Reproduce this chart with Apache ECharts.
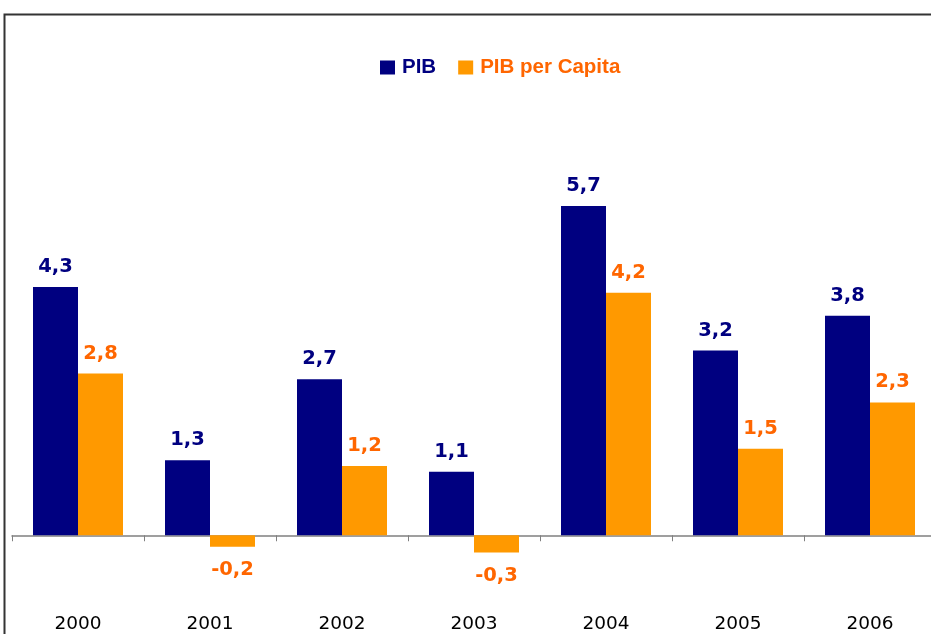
<!DOCTYPE html>
<html>
<head>
<meta charset="utf-8">
<script src="https://cdn.jsdelivr.net/npm/echarts@6/dist/echarts.min.js"></script>
<style>
  html, body { margin: 0; padding: 0; background: #fff; }
  #main { width: 931px; height: 634px; }
</style>
</head>
<body>
<div id="main"></div>
<script>
// valores (%)
var anos = ["2000", "2001", "2002", "2003", "2004", "2005", "2006"];
var pib = [4.3, 1.3, 2.7, 1.1, 5.7, 3.2, 3.8];
var pibPerCapita = [2.8, -0.2, 1.2, -0.3, 4.2, 1.5, 2.3];

var fmt = function (p) {
  return String(p.value).replace(".", ",");
};

// negative values get their label below the bar
function toData(arr) {
  return arr.map(function (v) {
    return v < 0 ? { value: v, label: { position: "bottom", distance: 13 } } : v;
  });
}

var myChart = echarts.init(document.getElementById("main"));
var option = {
  animation: false,
  backgroundColor: "#fff",
  graphic: [
    {
      type: "rect",
      shape: { x: 4.5, y: 14.5, width: 1000, height: 1000 },
      style: { fill: "none", stroke: "#333", lineWidth: 2 },
      silent: true
    }
  ],
  legend: {
    top: 52,
    left: 375,
    itemWidth: 15,
    itemHeight: 14,
    itemGap: 22,
    icon: "rect",
    textStyle: {
      fontFamily: "Liberation Sans",
      fontWeight: "bold",
      fontSize: 20.5,
      padding: [0, 0, 0, 2]
    },
    data: [
      { name: "PIB", textStyle: { color: "#000080" } },
      { name: "PIB per Capita", textStyle: { color: "#ff6600" } }
    ]
  },
  grid: {
    left: 12,
    top: 131,
    width: 924,
    height: 462,
    outerBoundsMode: "none",
    containLabel: false
  },
  xAxis: {
    type: "category",
    data: anos,
    axisLine: { onZero: true, lineStyle: { color: "#808080", width: 1.5 } },
    axisTick: { show: true, length: 6, lineStyle: { color: "#808080" } },
    axisLabel: {
      margin: 22,
      fontFamily: "DejaVu Sans",
      fontSize: 18.5,
      color: "#000"
    }
  },
  yAxis: {
    type: "value",
    min: -1,
    max: 7,
    show: false,
    splitLine: { show: false }
  },
  series: [
    {
      name: "PIB",
      type: "bar",
      data: toData(pib),
      barWidth: 45,
      barGap: "0%",
      itemStyle: { color: "#000080" },
      label: {
        show: true,
        position: "top",
        distance: 10,
        formatter: fmt,
        fontFamily: "DejaVu Sans",
        fontWeight: "bold",
        fontSize: 19.5,
        color: "#000080"
      }
    },
    {
      name: "PIB per Capita",
      type: "bar",
      data: toData(pibPerCapita),
      barWidth: 45,
      barGap: "0%",
      itemStyle: { color: "#ff9900" },
      label: {
        show: true,
        position: "top",
        distance: 10,
        formatter: fmt,
        fontFamily: "DejaVu Sans",
        fontWeight: "bold",
        fontSize: 19.5,
        color: "#ff6600"
      }
    }
  ]
};
myChart.setOption(option);
</script>
</body>
</html>
